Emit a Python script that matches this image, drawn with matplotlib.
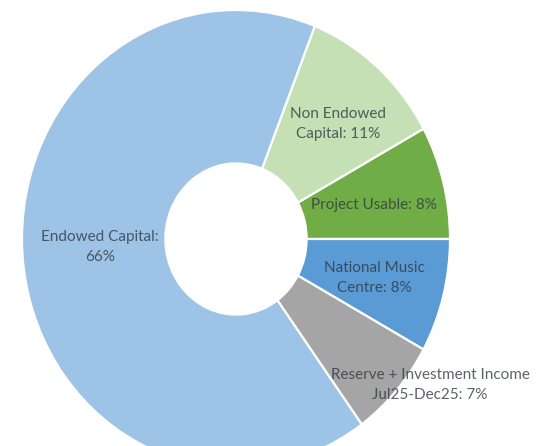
import matplotlib
matplotlib.use("Agg")
import matplotlib.pyplot as plt

# ---- data (counter-clockwise from 3 o'clock) ----
names = ["Project Usable", "Non Endowed Capital", "Endowed Capital",
         "Reserve + Investment Income Jul25-Dec25", "National Music Centre"]
shares = [8, 11, 66, 7, 8]
label_texts = ["Project Usable: 8%", "Non Endowed\nCapital: 11%",
               "Endowed Capital:\n66%",
               "Reserve + Investment Income\nJul25-Dec25: 7%",
               "National Music\nCentre: 8%"]
colors = ["#70AD47", "#C5E0B4", "#9DC3E6", "#A5A5A5", "#5B9BD5"]

# label anchor points (axes data units, pie radius = 1)
label_x = [0.645, 0.477, -0.636, 0.907, 0.645]
label_y = [0.148, 0.502, -0.035, -0.638, -0.170]

plt.rcParams['font.family'] = ['Lato', 'DejaVu Sans']

fig = plt.figure(figsize=(5.38, 4.46), dpi=100)
# axes slightly taller than wide -> stretched donut like the source image
ax = fig.add_axes([22/538, -22/446, 428/538, 458/446])

wedges, _ = ax.pie(shares, colors=colors, startangle=0, counterclock=True,
                   radius=1.0,
                   wedgeprops=dict(width=0.67, edgecolor='white', linewidth=1.6))

ax.set_aspect('auto')
ax.set_xlim(-1, 1)
ax.set_ylim(-1, 1)
ax.axis('off')

for txt, x, y in zip(label_texts, label_x, label_y):
    ax.text(x, y, txt, ha='center', va='center', fontsize=11,
            color='#2F3640', alpha=0.78, linespacing=1.5)

fig.savefig('out.png', dpi=100)
